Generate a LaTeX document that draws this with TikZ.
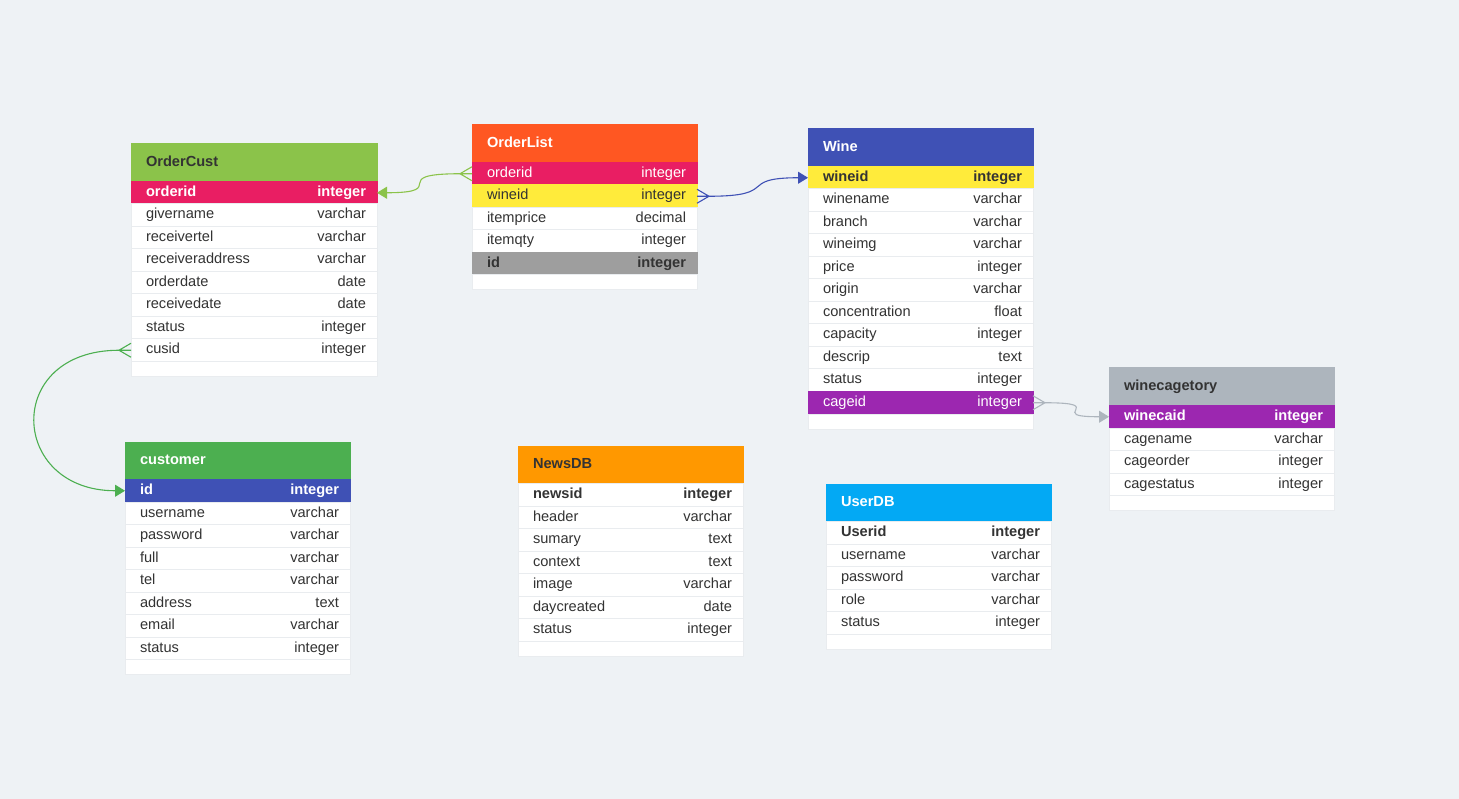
\documentclass[tikz,border=0pt]{standalone}
\usepackage{fontspec}
\setmainfont{Liberation Sans}
\usetikzlibrary{positioning,arrows.meta}

\definecolor{bg}{HTML}{EEF2F5}
\definecolor{ink}{HTML}{333333}
\definecolor{sepline}{HTML}{E9ECEF}
\definecolor{limegreen}{HTML}{8BC34A}
\definecolor{keypink}{HTML}{E91E63}
\definecolor{deeporange}{HTML}{FF5722}
\definecolor{yellowrow}{HTML}{FFEB3B}
\definecolor{greyrow}{HTML}{9E9E9E}
\definecolor{indigo}{HTML}{3F51B5}
\definecolor{purplerow}{HTML}{9C27B0}
\definecolor{bluegrey}{HTML}{ADB5BD}
\definecolor{custgreen}{HTML}{4CAF50}
\definecolor{amber}{HTML}{FF9800}
\definecolor{skyblue}{HTML}{03A9F4}

% one field line: name left, type right
\newcommand{\fld}[2]{\hbox to \tw{\hskip15pt#1\hfill#2\hskip11pt}}
\newcommand{\ttl}[1]{\hbox to \tw{\hskip15pt\bfseries#1\hfill}}
% crow's foot at the many end
\newcommand{\crowfoot}[3]{%
  \draw[#3, line width=1.1pt] ([xshift=#2]#1) -- ([yshift=7pt]#1)
    ([xshift=#2]#1) -- (#1) ([xshift=#2]#1) -- ([yshift=-7pt]#1);}

\tikzset{
  every node/.style={font=\fontsize{14.6}{17}\selectfont, text=ink,
    inner sep=0pt, outer sep=0pt, text height=10.5pt, text depth=3pt},
  tblhead/.style={fill=#1, draw=#1, line width=1pt, minimum height=37.5pt,
    anchor=north west},
  fieldrow/.style={fill=white, draw=sepline, line width=1pt, minimum height=22.5pt},
  keyrow/.style={fieldrow, fill=#1, draw=#1},
  footrow/.style={fieldrow, minimum height=15pt},
  link/.style={line width=1.1pt, -{Triangle[length=10pt,width=12pt]}},
}

\begin{document}
\begin{tikzpicture}[x=1pt,y=-1pt]
\fill[bg] (0,0) rectangle (1459,799);
\useasboundingbox (0,0) rectangle (1459,799);

% OrderCust
\begin{scope}
\def\tw{246pt}
\node[tblhead=limegreen] (oc) at (131,144) {\ttl{OrderCust}};
\node[keyrow=keypink, text=white, below=0pt of oc] (oc-orderid) {\bfseries\fld{orderid}{integer}};
\node[fieldrow, below=0pt of oc-orderid] (oc-givername) {\fld{givername}{varchar}};
\node[fieldrow, below=0pt of oc-givername] (oc-receivertel) {\fld{receivertel}{varchar}};
\node[fieldrow, below=0pt of oc-receivertel] (oc-receiveraddress) {\fld{receiveraddress}{varchar}};
\node[fieldrow, below=0pt of oc-receiveraddress] (oc-orderdate) {\fld{orderdate}{date}};
\node[fieldrow, below=0pt of oc-orderdate] (oc-receivedate) {\fld{receivedate}{date}};
\node[fieldrow, below=0pt of oc-receivedate] (oc-status) {\fld{status}{integer}};
\node[fieldrow, below=0pt of oc-status] (oc-cusid) {\fld{cusid}{integer}};
\node[footrow, below=0pt of oc-cusid] (oc-foot) {\hbox to \tw{}};
\end{scope}

% OrderList
\begin{scope}
\def\tw{225pt}
\node[tblhead=deeporange, text=white] (ol) at (472,125) {\ttl{OrderList}};
\node[keyrow=keypink, text=white, below=0pt of ol] (ol-orderid) {\fld{orderid}{integer}};
\node[keyrow=yellowrow, below=0pt of ol-orderid] (ol-wineid) {\fld{wineid}{integer}};
\node[fieldrow, below=0pt of ol-wineid] (ol-itemprice) {\fld{itemprice}{decimal}};
\node[fieldrow, below=0pt of ol-itemprice] (ol-itemqty) {\fld{itemqty}{integer}};
\node[keyrow=greyrow, below=0pt of ol-itemqty] (ol-id) {\bfseries\fld{id}{integer}};
\node[footrow, below=0pt of ol-id] (ol-foot) {\hbox to \tw{}};
\end{scope}

% Wine
\begin{scope}
\def\tw{225pt}
\node[tblhead=indigo, text=white] (wn) at (808,129) {\ttl{Wine}};
\node[keyrow=yellowrow, below=0pt of wn] (wn-wineid) {\bfseries\fld{wineid}{integer}};
\node[fieldrow, below=0pt of wn-wineid] (wn-winename) {\fld{winename}{varchar}};
\node[fieldrow, below=0pt of wn-winename] (wn-branch) {\fld{branch}{varchar}};
\node[fieldrow, below=0pt of wn-branch] (wn-wineimg) {\fld{wineimg}{varchar}};
\node[fieldrow, below=0pt of wn-wineimg] (wn-price) {\fld{price}{integer}};
\node[fieldrow, below=0pt of wn-price] (wn-origin) {\fld{origin}{varchar}};
\node[fieldrow, below=0pt of wn-origin] (wn-concentration) {\fld{concentration}{float}};
\node[fieldrow, below=0pt of wn-concentration] (wn-capacity) {\fld{capacity}{integer}};
\node[fieldrow, below=0pt of wn-capacity] (wn-descrip) {\fld{descrip}{text}};
\node[fieldrow, below=0pt of wn-descrip] (wn-status) {\fld{status}{integer}};
\node[keyrow=purplerow, text=white, below=0pt of wn-status] (wn-cageid) {\fld{cageid}{integer}};
\node[footrow, below=0pt of wn-cageid] (wn-foot) {\hbox to \tw{}};
\end{scope}

% winecagetory
\begin{scope}
\def\tw{225pt}
\node[tblhead=bluegrey] (wc) at (1109,368) {\ttl{winecagetory}};
\node[keyrow=purplerow, text=white, below=0pt of wc] (wc-winecaid) {\bfseries\fld{winecaid}{integer}};
\node[fieldrow, below=0pt of wc-winecaid] (wc-cagename) {\fld{cagename}{varchar}};
\node[fieldrow, below=0pt of wc-cagename] (wc-cageorder) {\fld{cageorder}{integer}};
\node[fieldrow, below=0pt of wc-cageorder] (wc-cagestatus) {\fld{cagestatus}{integer}};
\node[footrow, below=0pt of wc-cagestatus] (wc-foot) {\hbox to \tw{}};
\end{scope}

% customer
\begin{scope}
\def\tw{225pt}
\node[tblhead=custgreen, text=white] (cu) at (125,442) {\ttl{customer}};
\node[keyrow=indigo, text=white, below=0pt of cu] (cu-id) {\bfseries\fld{id}{integer}};
\node[fieldrow, below=0pt of cu-id] (cu-username) {\fld{username}{varchar}};
\node[fieldrow, below=0pt of cu-username] (cu-password) {\fld{password}{varchar}};
\node[fieldrow, below=0pt of cu-password] (cu-full) {\fld{full}{varchar}};
\node[fieldrow, below=0pt of cu-full] (cu-tel) {\fld{tel}{varchar}};
\node[fieldrow, below=0pt of cu-tel] (cu-address) {\fld{address}{text}};
\node[fieldrow, below=0pt of cu-address] (cu-email) {\fld{email}{varchar}};
\node[fieldrow, below=0pt of cu-email] (cu-status) {\fld{status}{integer}};
\node[footrow, below=0pt of cu-status] (cu-foot) {\hbox to \tw{}};
\end{scope}

% NewsDB
\begin{scope}
\def\tw{225pt}
\node[tblhead=amber] (nw) at (518,446) {\ttl{NewsDB}};
\node[fieldrow, below=0pt of nw] (nw-newsid) {\bfseries\fld{newsid}{integer}};
\node[fieldrow, below=0pt of nw-newsid] (nw-header) {\fld{header}{varchar}};
\node[fieldrow, below=0pt of nw-header] (nw-sumary) {\fld{sumary}{text}};
\node[fieldrow, below=0pt of nw-sumary] (nw-context) {\fld{context}{text}};
\node[fieldrow, below=0pt of nw-context] (nw-image) {\fld{image}{varchar}};
\node[fieldrow, below=0pt of nw-image] (nw-daycreated) {\fld{daycreated}{date}};
\node[fieldrow, below=0pt of nw-daycreated] (nw-status) {\fld{status}{integer}};
\node[footrow, below=0pt of nw-status] (nw-foot) {\hbox to \tw{}};
\end{scope}

% UserDB
\begin{scope}
\def\tw{225pt}
\node[tblhead=skyblue, text=white] (us) at (826,484) {\ttl{UserDB}};
\node[fieldrow, below=0pt of us] (us-userid) {\bfseries\fld{Userid}{integer}};
\node[fieldrow, below=0pt of us-userid] (us-username) {\fld{username}{varchar}};
\node[fieldrow, below=0pt of us-username] (us-password) {\fld{password}{varchar}};
\node[fieldrow, below=0pt of us-password] (us-role) {\fld{role}{varchar}};
\node[fieldrow, below=0pt of us-role] (us-status) {\fld{status}{integer}};
\node[footrow, below=0pt of us-status] (us-foot) {\hbox to \tw{}};
\end{scope}

% relations
\coordinate (ol-orderid-crow) at ([xshift=-12pt]ol-orderid.west);
\crowfoot{ol-orderid.west}{-12pt}{limegreen}
\draw[link, limegreen] (ol-orderid-crow) .. controls +(-75,0) and +(75,0) .. (oc-orderid.east);

\coordinate (ol-wineid-crow) at ([xshift=12pt]ol-wineid.east);
\crowfoot{ol-wineid.east}{12pt}{indigo}
\draw[link, indigo] (ol-wineid-crow) .. controls +(72,0) and +(-72,0) .. (wn-wineid.west);

\coordinate (wn-cageid-crow) at ([xshift=12pt]wn-cageid.east);
\crowfoot{wn-cageid.east}{12pt}{bluegrey}
\draw[link, bluegrey] (wn-cageid-crow) .. controls +(66,0) and +(-66,0) .. (wc-winecaid.west);

\coordinate (oc-cusid-crow) at ([xshift=-12pt]oc-cusid.west);
\crowfoot{oc-cusid.west}{-12pt}{custgreen}
\draw[link, custgreen] (oc-cusid-crow) .. controls +(-116,0) and +(-116,0) .. (cu-id.west);
\end{tikzpicture}
\end{document}
